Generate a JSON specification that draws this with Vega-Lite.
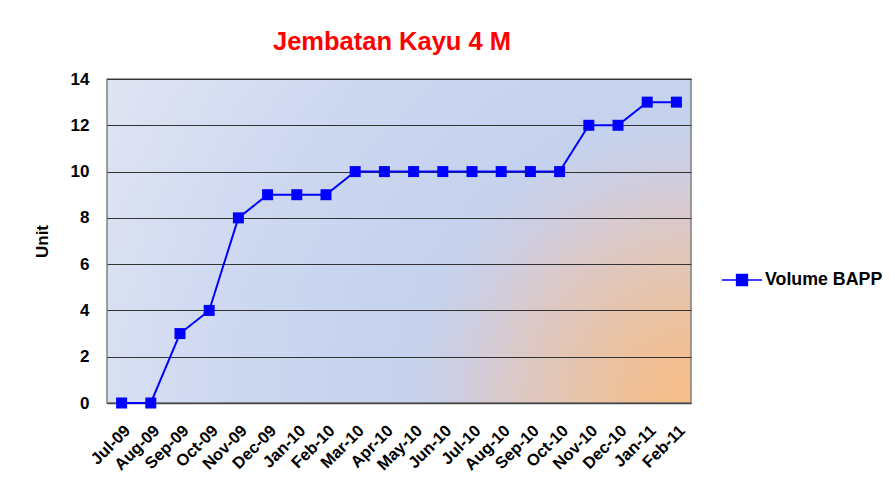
{
  "$schema": "https://vega.github.io/schema/vega-lite/v6.json",
  "width": 584,
  "height": 324,
  "autosize": {"type": "none"},
  "padding": {"left": 107, "top": 79, "right": 204, "bottom": 92},
  "background": "white",
  "title": {
    "text": "Jembatan Kayu 4 M",
    "color": "#ff0000",
    "font": "Liberation Sans",
    "fontWeight": "bold",
    "fontSize": 25.5,
    "anchor": "middle",
    "baseline": "alphabetic",
    "offset": -5,
    "dx": -7
  },
  "config": {
    "view": {
      "stroke": "#808080",
      "strokeWidth": 1.5,
      "fill": {
        "gradient": "radial",
        "x1": 1, "y1": 0.777, "r1": 0,
        "x2": 1, "y2": 0.777, "r2": 1.2,
        "stops": [
          {"offset": 0, "color": "#f6bd88"},
          {"offset": 0.057, "color": "#f3be90"},
          {"offset": 0.143, "color": "#e9c3a6"},
          {"offset": 0.243, "color": "#ddc8c4"},
          {"offset": 0.329, "color": "#cfcde0"},
          {"offset": 0.4, "color": "#c5d2ed"},
          {"offset": 0.643, "color": "#ccd7f0"},
          {"offset": 0.957, "color": "#e0e5f3"},
          {"offset": 1, "color": "#e1e6f4"}
        ]
      }
    },
    "font": "Liberation Sans"
  },
  "data": {
    "values": [
      {"month": "Jul-09", "value": 0, "series": "Volume BAPP"},
      {"month": "Aug-09", "value": 0, "series": "Volume BAPP"},
      {"month": "Sep-09", "value": 3, "series": "Volume BAPP"},
      {"month": "Oct-09", "value": 4, "series": "Volume BAPP"},
      {"month": "Nov-09", "value": 8, "series": "Volume BAPP"},
      {"month": "Dec-09", "value": 9, "series": "Volume BAPP"},
      {"month": "Jan-10", "value": 9, "series": "Volume BAPP"},
      {"month": "Feb-10", "value": 9, "series": "Volume BAPP"},
      {"month": "Mar-10", "value": 10, "series": "Volume BAPP"},
      {"month": "Apr-10", "value": 10, "series": "Volume BAPP"},
      {"month": "May-10", "value": 10, "series": "Volume BAPP"},
      {"month": "Jun-10", "value": 10, "series": "Volume BAPP"},
      {"month": "Jul-10", "value": 10, "series": "Volume BAPP"},
      {"month": "Aug-10", "value": 10, "series": "Volume BAPP"},
      {"month": "Sep-10", "value": 10, "series": "Volume BAPP"},
      {"month": "Oct-10", "value": 10, "series": "Volume BAPP"},
      {"month": "Nov-10", "value": 12, "series": "Volume BAPP"},
      {"month": "Dec-10", "value": 12, "series": "Volume BAPP"},
      {"month": "Jan-11", "value": 13, "series": "Volume BAPP"},
      {"month": "Feb-11", "value": 13, "series": "Volume BAPP"}
    ]
  },
  "mark": {
    "type": "line",
    "strokeWidth": 2,
    "point": {"shape": "square", "size": 121, "filled": true, "opacity": 1}
  },
  "encoding": {
    "x": {
      "field": "month",
      "type": "ordinal",
      "sort": null,
      "scale": {"type": "point", "padding": 0.5},
      "axis": {
        "title": null,
        "labelAngle": -45,
        "labelFontSize": 16.5,
        "labelFontWeight": "bold",
        "labelColor": "#000000",
        "labelPadding": 19,
        "ticks": false,
        "domain": true,
        "domainColor": "#444444",
        "domainWidth": 1.5,
        "grid": false
      }
    },
    "y": {
      "field": "value",
      "type": "quantitative",
      "scale": {"domain": [0, 14], "nice": false},
      "axis": {
        "title": "Unit",
        "titleFontSize": 17,
        "titleFontWeight": "bold",
        "titleColor": "#000000",
        "titlePadding": 19,
        "values": [0, 2, 4, 6, 8, 10, 12, 14],
        "labelFontSize": 17,
        "labelFontWeight": "bold",
        "labelColor": "#000000",
        "labelPadding": 18,
        "ticks": false,
        "domain": false,
        "grid": true,
        "gridColor": "#333333",
        "gridWidth": 1,
        "gridOpacity": 1
      }
    },
    "color": {
      "field": "series",
      "type": "nominal",
      "scale": {"range": ["#0000ff"]},
      "legend": {
        "title": null,
        "orient": "none",
        "legendX": 614,
        "legendY": 180,
        "padding": 0,
        "symbolType": "M-1,0H1M-0.27,-0.27H0.27V0.27H-0.27Z",
        "symbolSize": 1600,
        "symbolFillColor": "#0000ff",
        "symbolStrokeColor": "#0000ff",
        "symbolStrokeWidth": 1.5,
        "labelFontSize": 17.8,
        "labelFontWeight": "bold",
        "labelColor": "#000000",
        "labelOffset": 2
      }
    }
  }
}
